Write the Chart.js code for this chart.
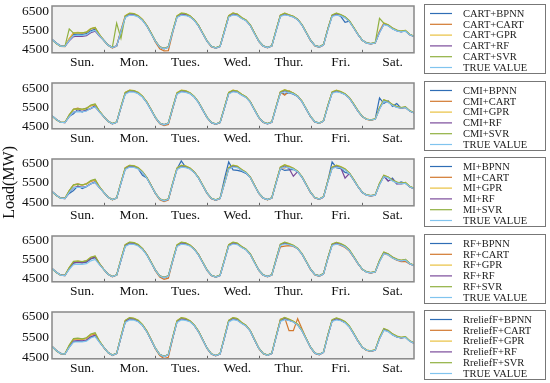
<!DOCTYPE html>
<html>
<head>
<meta charset="utf-8">
<script src="https://cdn.jsdelivr.net/npm/chart.js@4.4.1/dist/chart.umd.min.js"></script>
<style>
  html, body { margin: 0; padding: 0; background: #fff; }
  #wrap { position: relative; width: 550px; height: 383px; overflow: hidden; }
  #wrap canvas { position: absolute; left: 0; }
</style>
</head>
<body>
<div id="wrap">
  <canvas id="p0" width="550" height="117" style="top:-20px"></canvas>
  <canvas id="p1" width="550" height="116" style="top:57px"></canvas>
  <canvas id="p2" width="550" height="117" style="top:133px"></canvas>
  <canvas id="p3" width="550" height="116" style="top:210px"></canvas>
  <canvas id="p4" width="550" height="117" style="top:286px"></canvas>
</div>
<script>
// sample times (hours from Sunday 00:00), one every 2 hours
const hours = [
  0, 2, 4, 6, 8, 10, 12, 14, 16, 18, 20, 22,
  24, 26, 28, 30, 32, 34, 36, 38, 40, 42, 44, 46,
  48, 50, 52, 54, 56, 58, 60, 62, 64, 66, 68, 70,
  72, 74, 76, 78, 80, 82, 84, 86, 88, 90, 92, 94,
  96, 98, 100, 102, 104, 106, 108, 110, 112, 114, 116, 118,
  120, 122, 124, 126, 128, 130, 132, 134, 136, 138, 140, 142,
  144, 146, 148, 150, 152, 154, 156, 158, 160, 162, 164, 166,
  168
];
const days = ['Sun.', 'Mon.', 'Tues.', 'Wed.', 'Thur.', 'Fri.', 'Sat.'];
const yTicks = [4500, 5500, 6500];
const selectors = ['CART', 'CMI', 'MI', 'RF', 'RreliefF'];
const models = ['BPNN', 'CART', 'GPR', 'RF', 'SVR'];

// measured load (MW)
const trueLoad = [
  5050,4850,4700,4680,5000,5250,5270,5260,5300,5450,5520,5250,
  5000,4750,4620,4700,5480,6200,6320,6310,6230,6050,5750,5350,
  4950,4650,4560,4640,5440,6200,6320,6300,6230,6050,5750,5350,
  4950,4680,4600,4680,5440,6220,6330,6300,6150,6030,5780,5350,
  4950,4700,4620,4700,5490,6250,6330,6290,6220,6080,5800,5400,
  5000,4720,4650,4760,5540,6250,6320,6280,6180,5980,5650,5300,
  5000,4860,4820,4860,5400,5820,5760,5600,5500,5450,5480,5300,
  5200
];

// CART feature selection
const cartBpnn = [
  5060,4860,4720,4700,5050,5300,5320,5300,5350,5500,5580,5280,
  5020,4770,4640,4720,5450,6230,6360,6350,6260,6070,5770,5370,
  4960,4660,4580,4660,5470,6230,6350,6340,6250,6070,5770,5360,
  4960,4690,4610,4700,5470,6250,6360,6330,6170,6050,5800,5370,
  4970,4720,4640,4720,5520,6300,6360,6310,6240,6090,5810,5410,
  5010,4740,4670,4780,5600,6300,6350,6260,5950,6000,5660,5310,
  5010,4870,4830,4880,5450,5850,5780,5620,5510,5460,5500,5310,
  5210
];
const cartCart = [
  5040,4830,4690,4670,5080,5380,5400,5380,5420,5600,5650,5300,
  5000,4740,4600,4700,5520,6280,6400,6380,6280,6080,5780,5380,
  4900,4560,4450,4460,5400,6250,6400,6380,6270,6080,5760,5360,
  4940,4660,4590,4680,5480,6280,6420,6360,6190,6060,5800,5370,
  4940,4690,4610,4700,5520,6300,6400,6330,6250,6100,5820,5400,
  4990,4710,4640,4760,5580,6300,6400,6330,6220,6010,5670,5310,
  5000,4850,4810,4860,5450,5880,5800,5640,5530,5470,5500,5300,
  5200
];
const cartGpr = [
  5050,4840,4700,4690,5100,5400,5420,5400,5440,5620,5680,5310,
  5010,4760,4630,4720,5550,6300,6430,6400,6300,6100,5790,5390,
  4960,4660,4570,4660,5500,6280,6430,6400,6290,6090,5790,5370,
  4960,4690,4610,4700,5500,6300,6430,6380,6200,6070,5810,5380,
  4960,4710,4630,4720,5550,6320,6420,6340,6260,6110,5830,5420,
  5010,4730,4660,4780,5600,6320,6420,6340,6230,6020,5680,5320,
  5010,4870,4830,4880,5500,5920,5820,5650,5540,5480,5520,5320,
  5220
];
const cartRf = [
  5050,4850,4700,4680,4980,5200,5220,5210,5250,5400,5480,5230,
  5000,4750,4620,4700,5480,6220,6370,6350,6250,6060,5760,5360,
  4950,4650,4560,4640,5450,6220,6360,6340,6240,6060,5760,5350,
  4950,4680,4600,4680,5450,6240,6370,6320,6160,6040,5790,5360,
  4950,4700,4620,4700,5500,6280,6370,6300,6230,6090,5810,5400,
  5000,4720,4650,4760,5560,6280,6370,6290,6190,5990,5660,5300,
  5000,4860,4820,4860,5420,5850,5780,5610,5510,5450,5490,5300,
  5200
];
const cartSvr = [
  5040,4840,4690,4690,5600,5380,5400,5390,5430,5610,5680,5300,
  5000,4750,4630,5900,5100,6280,6420,6400,6290,6090,5780,5380,
  4960,4660,4570,4660,5500,6280,6430,6400,6290,6090,5790,5370,
  4960,4690,4610,4700,5500,6300,6430,6380,6200,6070,5810,5380,
  4960,4710,4630,4720,5550,6320,6420,6340,6260,6110,5830,5420,
  5010,4730,4660,4780,5600,6330,6420,6350,6240,6030,5690,5320,
  5010,4870,4830,4880,6150,5900,5820,5650,5540,5480,5520,5320,
  5220
];

// CMI feature selection
const cmiBpnn = [
  5050,4850,4710,4700,5020,5150,5400,5250,5380,5420,5600,5280,
  5010,4760,4630,4710,5500,6250,6380,6360,6250,6060,5760,5360,
  4950,4650,4570,4650,5460,6230,6360,6330,6250,6060,5760,5350,
  4950,4680,4600,4690,5460,6250,6360,6320,6180,6040,5790,5360,
  4960,4710,4630,4710,5520,6300,6200,6280,6200,6080,5800,5400,
  5000,4720,4650,4760,5560,6280,6360,6300,6200,5990,5660,5300,
  5000,4860,4830,4870,6000,5700,5850,5550,5700,5450,5520,5300,
  5200
];
const cmiCart = [
  5040,4840,4700,4680,5080,5400,5450,5380,5460,5580,5640,5290,
  5000,4740,4610,4700,5500,6280,6400,6380,6280,6080,5780,5370,
  4930,4620,4520,4580,5420,6250,6390,6370,6270,6070,5770,5360,
  4940,4670,4590,4680,5470,6270,6400,6350,6180,6050,5800,5370,
  4940,4690,4610,4700,5520,6300,6150,6380,6250,6100,5820,5400,
  4990,4710,4640,4760,5580,6300,6380,6320,6210,6000,5670,5300,
  5000,4850,4810,4860,5450,5860,5790,5630,5520,5460,5500,5300,
  5200
];
const cmiGpr = [
  5050,4850,4700,4690,5080,5380,5400,5380,5420,5600,5660,5300,
  5010,4760,4630,4720,5540,6300,6420,6400,6300,6090,5790,5380,
  4960,4660,4570,4660,5500,6280,6420,6390,6280,6080,5780,5370,
  4960,4690,4610,4700,5500,6300,6420,6370,6200,6060,5810,5380,
  4960,4710,4630,4720,5550,6330,6440,6360,6260,6110,5830,5420,
  5010,4730,4660,4780,5600,6320,6420,6340,6230,6020,5680,5320,
  5010,4870,4830,4880,5480,5900,5810,5650,5540,5480,5520,5320,
  5220
];
const cmiRf = [
  5050,4850,4700,4680,5000,5250,5300,5280,5320,5450,5520,5250,
  5000,4750,4620,4700,5480,6230,6370,6350,6250,6060,5760,5360,
  4950,4650,4560,4640,5450,6220,6360,6340,6240,6060,5760,5350,
  4950,4680,4600,4680,5450,6240,6370,6320,6160,6040,5790,5360,
  4950,4700,4620,4700,5500,6280,6380,6300,6230,6090,5810,5400,
  5000,4720,4650,4760,5560,6280,6370,6290,6190,5990,5660,5300,
  5000,4860,4820,4860,5420,5850,5780,5610,5510,5450,5490,5300,
  5200
];
const cmiSvr = [
  5040,4840,4700,4690,5100,5400,5420,5400,5440,5620,5680,5300,
  5000,4750,4630,4710,5530,6290,6410,6390,6290,6090,5780,5380,
  4960,4660,4570,4660,5490,6270,6410,6380,6280,6080,5780,5370,
  4960,4690,4610,4700,5490,6290,6410,6370,6200,6060,5800,5380,
  4960,4710,4630,4720,5540,6320,6430,6350,6260,6110,5830,5420,
  5010,4730,4660,4780,5600,6320,6410,6340,6230,6020,5680,5320,
  5010,4870,4830,4880,5480,5900,5810,5650,5540,5480,5520,5320,
  5220
];

// MI feature selection
const miBpnn = [
  5050,4850,4710,4700,4950,5100,5350,5200,5300,5450,5560,5260,
  5010,4760,4630,4710,5500,6250,6380,6360,6250,5900,5760,5360,
  4950,4650,4570,4650,5460,6230,6650,6330,6250,6060,5760,5350,
  4950,4680,4600,4700,5700,6600,6180,6150,6100,6000,5790,5360,
  4960,4710,4630,4710,5520,6250,6150,6180,6200,6080,5800,5400,
  5000,4720,4650,4760,5600,6600,6300,6250,6050,5990,5660,5300,
  5000,4860,4830,4870,5450,5850,5600,5750,5450,5550,5480,5300,
  5200
];
const miCart = [
  5040,4840,4700,4680,5080,5400,5450,5380,5460,5580,5640,5290,
  5000,4740,4610,4700,5500,6280,6400,6380,6280,6080,5780,5370,
  4930,4620,4520,4600,5430,6250,6390,6370,6270,6070,5770,5360,
  4940,4670,4590,4680,5470,6270,6400,6350,6180,6050,5800,5370,
  4940,4690,4610,4700,5520,6300,6280,6380,6250,6100,5820,5400,
  4990,4710,4640,4760,5580,6300,6380,6320,6210,6000,5670,5300,
  5000,4850,4810,4860,5450,5860,5790,5630,5520,5460,5500,5300,
  5200
];
const miGpr = [
  5050,4850,4700,4690,5080,5380,5420,5390,5430,5610,5670,5300,
  5010,4760,4630,4720,5540,6300,6420,6400,6300,6090,5790,5380,
  4960,4660,4570,4660,5500,6280,6420,6390,6280,6080,5780,5370,
  4960,4690,4610,4700,5500,6300,6430,6380,6200,6060,5810,5380,
  4960,4710,4630,4720,5550,6330,6450,6370,6270,6110,5830,5420,
  5010,4730,4660,4780,5600,6330,6430,6350,6240,6020,5680,5320,
  5010,4870,4830,4880,5480,5900,5810,5650,5540,5480,5520,5320,
  5220
];
const miRf = [
  5050,4850,4700,4680,5000,5250,5300,5280,5320,5450,5520,5250,
  5000,4750,4620,4700,5480,6230,6370,6350,6250,6060,5760,5360,
  4950,4650,4560,4640,5450,6220,6360,6340,6240,6060,5760,5350,
  4950,4680,4600,4680,5450,6240,6370,6320,6160,6040,5790,5360,
  4950,4700,4620,4700,5500,6280,6380,6250,5850,6090,5810,5400,
  5000,4720,4650,4760,5560,6280,6370,6290,5750,5990,5660,5300,
  5000,4860,4820,4860,5420,5850,5600,5700,5450,5450,5490,5300,
  5200
];
const miSvr = [
  5040,4840,4700,4690,5100,5400,5430,5400,5440,5620,5690,5300,
  5000,4750,4630,4710,5530,6290,6420,6390,6290,6090,5780,5380,
  4960,4660,4570,4660,5490,6270,6410,6380,6280,6080,5780,5370,
  4960,4690,4610,4700,5490,6290,6420,6370,6200,6060,5800,5380,
  4960,4710,4630,4720,5540,6320,6440,6360,6260,6110,5830,5420,
  5010,4730,4660,4780,5600,6320,6420,6340,6230,6020,5680,5320,
  5010,4870,4830,4880,5480,5900,5810,5650,5540,5480,5520,5320,
  5220
];

// RF feature selection
const rfBpnn = [
  5050,4850,4710,4690,5030,5330,5360,5340,5380,5550,5620,5280,
  5010,4760,4630,4710,5480,6240,6380,6360,6260,6070,5770,5370,
  4960,4660,4580,4660,5460,6230,6370,6350,6250,6070,5770,5360,
  4960,4690,4610,4700,5470,6260,6380,6330,6170,6050,5800,5370,
  4970,4720,4640,4720,5520,6290,6370,6320,6240,6090,5810,5410,
  5010,4740,4670,4780,5590,6300,6360,6300,6200,5990,5660,5310,
  5010,4870,4830,4880,5440,5860,5790,5620,5510,5460,5500,5310,
  5210
];
const rfCart = [
  5040,4840,4700,4680,5080,5390,5420,5390,5440,5600,5660,5300,
  5000,4740,4610,4700,5510,6280,6400,6380,6270,6080,5780,5370,
  4920,4600,4480,4540,5420,6250,6390,6370,6260,6070,5770,5360,
  4940,4670,4590,4680,5470,6270,6400,6350,6180,6050,5800,5370,
  4940,4690,4610,4700,5480,6180,6220,6250,6200,6080,5800,5400,
  4990,4710,4640,4760,5570,6290,6350,6260,6150,5960,5640,5290,
  5000,4850,4810,4860,5430,5830,5760,5600,5480,5400,5420,5280,
  5200
];
const rfGpr = [
  5050,4850,4700,4690,5100,5410,5430,5400,5450,5630,5690,5310,
  5010,4760,4630,4720,5540,6300,6420,6400,6300,6090,5790,5380,
  4960,4660,4570,4660,5500,6280,6420,6390,6280,6080,5780,5370,
  4960,4690,4610,4700,5500,6300,6420,6370,6200,6060,5810,5380,
  4960,4710,4630,4720,5550,6310,6420,6350,6260,6110,5830,5420,
  5010,4730,4660,4780,5600,6320,6410,6340,6230,6020,5680,5320,
  5010,4870,4830,4880,5480,5900,5810,5650,5540,5480,5520,5320,
  5220
];
const rfRf = [
  5050,4850,4700,4680,5050,5350,5380,5360,5400,5570,5640,5290,
  5000,4750,4620,4700,5480,6250,6380,6360,6260,6070,5770,5360,
  4950,4650,4560,4640,5450,6230,6370,6350,6250,6060,5760,5350,
  4950,4680,4600,4680,5450,6250,6380,6330,6170,6040,5790,5360,
  4950,4700,4620,4700,5500,6280,6390,6310,6230,6090,5810,5400,
  5000,4720,4650,4760,5560,6290,6380,6300,6200,5990,5660,5300,
  5000,4860,4820,4860,5440,5870,5790,5620,5510,5450,5490,5300,
  5200
];
const rfSvr = [
  5040,4840,4700,4690,5100,5420,5440,5410,5460,5640,5700,5310,
  5000,4750,4630,4710,5530,6300,6430,6400,6300,6090,5780,5380,
  4960,4660,4570,4660,5490,6280,6430,6390,6280,6080,5780,5370,
  4960,4690,4610,4700,5490,6300,6430,6380,6200,6070,5810,5380,
  4960,4710,4630,4720,5540,6320,6430,6350,6260,6110,5830,5420,
  5010,4730,4660,4780,5600,6330,6420,6350,6240,6030,5690,5320,
  5010,4870,4830,4880,5480,5910,5820,5650,5540,5480,5520,5320,
  5220
];

// RreliefF feature selection
const rrBpnn = [
  5050,4850,4710,4690,5010,5280,5300,5290,5330,5480,5560,5260,
  5010,4760,4630,4710,5470,6220,6360,6350,6250,6060,5760,5360,
  4950,4650,4570,4650,5450,6220,6360,6330,6250,6060,5760,5350,
  4950,4680,4600,4690,5450,6240,6360,6320,6170,6040,5790,5360,
  4960,4710,4630,4710,5510,6280,6360,6310,6230,6080,5800,5400,
  5000,4720,4650,4760,5560,6270,6350,6300,6190,5990,5660,5300,
  5000,4860,4830,4870,5430,5850,5780,5610,5500,5450,5490,5300,
  5200
];
const rrCart = [
  5040,4840,4700,4680,5080,5380,5410,5380,5430,5590,5650,5290,
  5000,4740,4610,4700,5510,6280,6410,6380,6270,6080,5780,5370,
  4920,4600,4460,4520,5420,6260,6400,6370,6260,6070,5770,5360,
  4940,4670,4590,4680,5470,6270,6410,6350,6180,6050,5800,5370,
  4940,4690,4610,4700,5520,6350,6420,5800,5800,6380,5900,5420,
  4990,4710,4640,4760,5570,6290,6380,6310,6200,5990,5660,5300,
  5000,4850,4810,4860,5440,5850,5780,5620,5510,5450,5490,5300,
  5200
];
const rrGpr = [
  5050,4850,4700,4690,5090,5400,5420,5400,5440,5620,5680,5300,
  5010,4760,4630,4720,5530,6290,6420,6400,6300,6090,5790,5380,
  4960,4660,4570,4660,5490,6280,6420,6390,6280,6080,5780,5370,
  4960,4690,4610,4700,5490,6300,6430,6380,6200,6060,5810,5380,
  4960,4710,4630,4720,5540,6320,6430,6360,6260,6110,5830,5420,
  5010,4730,4660,4780,5590,6310,6410,6340,6230,6020,5680,5320,
  5010,4870,4830,4880,5470,5890,5810,5650,5540,5480,5520,5320,
  5220
];
const rrRf = [
  5050,4850,4700,4680,5020,5300,5330,5310,5350,5510,5580,5270,
  5000,4750,4620,4700,5480,6240,6380,6360,6260,6070,5770,5360,
  4950,4650,4560,4640,5450,6230,6370,6350,6250,6060,5760,5350,
  4950,4680,4600,4680,5450,6250,6380,6320,6170,6040,5790,5360,
  4950,4700,4620,4700,5500,6280,6380,6310,6230,6090,5810,5400,
  5000,4720,4650,4760,5560,6280,6370,6300,6200,5990,5660,5300,
  5000,4860,4820,4860,5430,5860,5790,5620,5510,5450,5490,5300,
  5200
];
const rrSvr = [
  5040,4840,4700,4690,5110,5420,5440,5410,5460,5640,5700,5310,
  5000,4750,4630,4710,5530,6300,6430,6400,6300,6090,5780,5380,
  4960,4660,4570,4660,5490,6280,6430,6390,6280,6080,5780,5370,
  4960,4690,4610,4700,5490,6300,6430,6380,6200,6070,5810,5380,
  4960,4710,4630,4720,5540,6320,6440,6350,6260,6110,5830,5420,
  5010,4730,4660,4780,5600,6330,6420,6350,6240,6030,5690,5320,
  5010,4870,4830,4880,5480,5910,5820,5650,5540,5480,5520,5320,
  5220
];

const panelSeries = [
  [cartBpnn, cartCart, cartGpr, cartRf, cartSvr],
  [cmiBpnn, cmiCart, cmiGpr, cmiRf, cmiSvr],
  [miBpnn, miCart, miGpr, miRf, miSvr],
  [rfBpnn, rfCart, rfGpr, rfRf, rfSvr],
  [rrBpnn, rrCart, rrGpr, rrRf, rrSvr]
];

// axis limits per panel
const yMin = [4350, 4350, 4300, 4350, 4450];
const yMax = [6800, 6800, 6750, 6750, 6700];

const colors = ['#2f6db5', '#d2782e', '#e8c040', '#7a4a9a', '#90b040', '#80c4ee'];
const FONT = "'Liberation Serif', 'Times New Roman', serif";
const LABEL_HOUR = 14;
const BLEED = 20; // spare canvas room above/below each panel

// gray plot background, frame, day tick marks and the boxed legend
const panelDecor = {
  id: 'panelDecor',
  beforeDatasetsDraw(chart) {
    const { ctx, chartArea: a } = chart;
    ctx.save();
    ctx.fillStyle = '#f0f0f0';
    ctx.fillRect(a.left, a.top, a.width, a.height);
    ctx.restore();
  },
  afterDatasetsDraw(chart) {
    const { ctx, chartArea: a } = chart;
    const x = chart.scales.x;
    ctx.save();
    ctx.strokeStyle = '#666';
    ctx.lineWidth = 1;
    for (let d = 1; d < days.length; d++) {
      const px = Math.round(x.getPixelForValue(d * 24)) + 0.5;
      ctx.beginPath();
      ctx.moveTo(px, a.bottom);
      ctx.lineTo(px, a.bottom - 3);
      ctx.stroke();
    }
    ctx.strokeStyle = '#888';
    ctx.lineWidth = 1.5;
    ctx.strokeRect(a.left, a.top, a.width, a.height);
    ctx.restore();
  },
  afterDraw(chart, args, opts) {
    const { ctx } = chart;
    const top = opts.top + BLEED;
    ctx.save();
    ctx.strokeStyle = '#777';
    ctx.lineWidth = 1;
    ctx.strokeRect(opts.left + 0.5, top + 0.5, opts.width, opts.height);
    ctx.font = '10.5px ' + FONT;
    ctx.textBaseline = 'middle';
    chart.data.datasets.forEach((ds, i) => {
      const y = top + 9.5 + i * opts.row;
      ctx.strokeStyle = ds.borderColor;
      ctx.lineWidth = 1.2;
      ctx.beginPath();
      ctx.moveTo(opts.left + 6, y);
      ctx.lineTo(opts.left + 28, y);
      ctx.stroke();
      ctx.fillStyle = '#222';
      ctx.fillText(ds.label, opts.left + 39, y + 0.5);
    });
    ctx.restore();
  }
};

function createPanel(p) {
  const series = panelSeries[p].concat([trueLoad]);
  const labels = models.map(m => selectors[p] + '+' + m).concat(['TRUE VALUE']);
  const ctx = document.getElementById('p' + p).getContext('2d');

  new Chart(ctx, {
    type: 'line',
    data: {
      datasets: series.map((values, i) => ({
        label: labels[i],
        data: hours.map((h, k) => ({ x: h, y: values[k] })),
        borderColor: colors[i],
        borderWidth: 1.2,
        pointRadius: 0,
        tension: 0,
        order: series.length - i
      }))
    },
    options: {
      responsive: false,
      animation: false,
      devicePixelRatio: 1,
      layout: { padding: { left: 0, top: 6 + BLEED, right: 136, bottom: 4 + BLEED } },
      plugins: {
        legend: { display: false },
        tooltip: { enabled: false },
        panelDecor: { left: 424, top: 4, width: 121, height: 69, row: 10.8 }
      },
      scales: {
        x: {
          type: 'linear',
          min: 0,
          max: 168,
          grid: { display: false, drawTicks: false },
          border: { display: false },
          afterBuildTicks: scale => {
            scale.ticks = days.map((d, i) => ({ value: i * 24 + LABEL_HOUR }));
          },
          ticks: {
            autoSkip: false,
            maxRotation: 0,
            padding: 2,
            color: '#111',
            font: { family: FONT, size: 13.5 },
            callback: (v, i) => days[i]
          }
        },
        y: {
          min: yMin[p],
          max: yMax[p],
          grid: { display: false, drawTicks: false },
          border: { display: false },
          afterBuildTicks: scale => {
            scale.ticks = yTicks.map(v => ({ value: v }));
          },
          afterFit: scale => {
            scale.width = 52;
            scale.paddingTop = 0;
            scale.paddingBottom = 0;
          },
          ticks: {
            padding: 3,
            color: '#111',
            font: { family: FONT, size: 13.5 },
            callback: v => String(v)
          },
          title: {
            display: p === 2,
            text: 'Load(MW)',
            color: '#111',
            padding: 0,
            font: { family: FONT, size: 16 }
          }
        }
      }
    },
    plugins: [panelDecor]
  });
}

for (let p = 0; p < selectors.length; p++) createPanel(p);
</script>
</body>
</html>
